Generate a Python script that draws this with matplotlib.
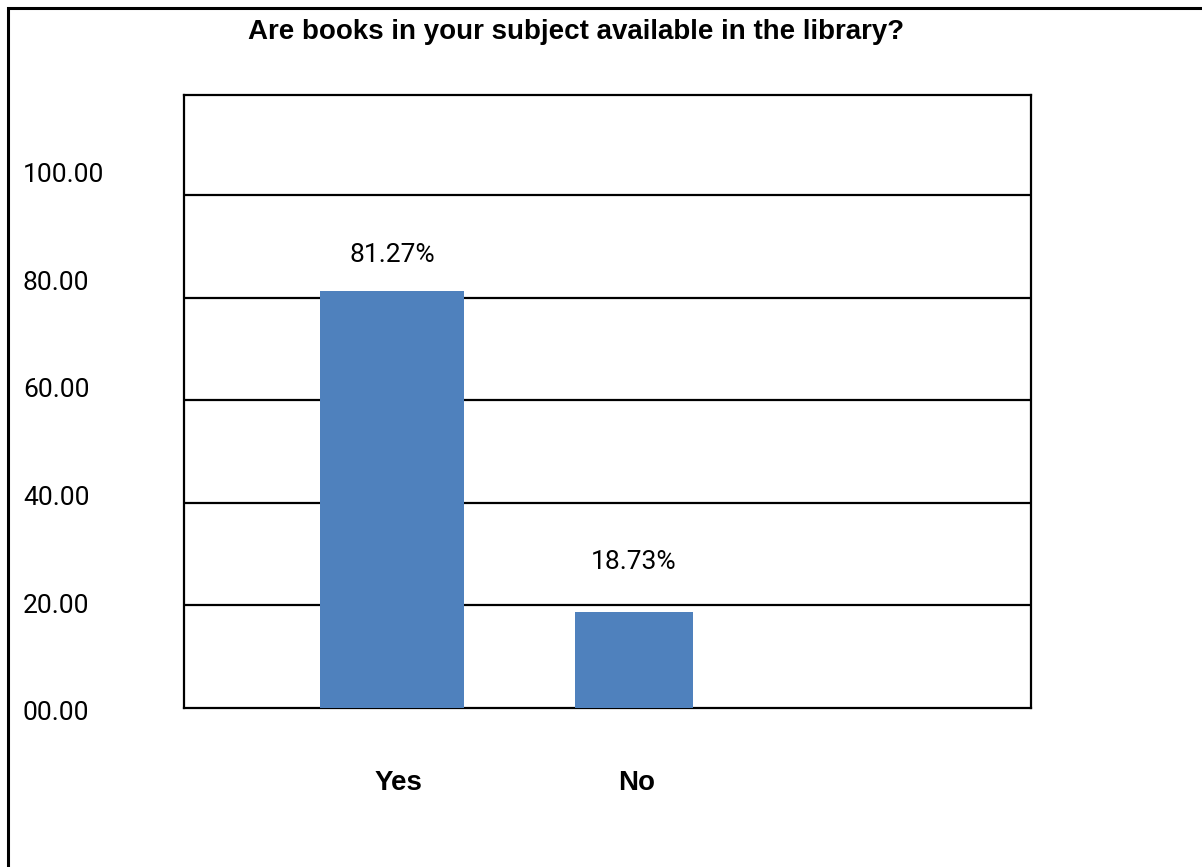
import matplotlib
matplotlib.use('Agg')
import matplotlib.pyplot as plt
import matplotlib.patches as patches
import matplotlib.transforms as mtransforms

# data
categories = ['Yes', 'No']
values = [81.27, 18.73]
value_labels = ['81.27%', '18.73%']
ytick_values = [0, 20, 40, 60, 80, 100]
ytick_labels = ['00.00', '20.00', '40.00', '60.00', '80.00', '100.00']

W, H = 1202, 867
fig = plt.figure(figsize=(W / 100, H / 100), dpi=100)
fig.patch.set_facecolor('white')

narrow = ['Liberation Sans Narrow', 'Liberation Sans', 'DejaVu Sans']
regular = ['Roboto', 'DejaVu Sans']

def px_box(x0, y_top, x1, y_bot):
    return [x0 / W, 1 - y_bot / H, (x1 - x0) / W, (y_bot - y_top) / H]

# main plot area
ax = fig.add_axes(px_box(184, 95, 1031, 708))
x = [0, 1]
ax.bar(x, values, width=[0.595, 0.488], color='#4F81BD', zorder=3)
ax.set_xlim(-0.86, 2.64)
ax.set_ylim(0, 119.5)
ax.set_yticks(ytick_values[1:])
ax.set_yticklabels([])
ax.tick_params(axis='y', length=0)
ax.grid(axis='y', color='black', linewidth=1.6, zorder=1)
for s in ax.spines.values():
    s.set_linewidth(1.6)
    s.set_color('black')

ax.set_xticks(x)
ax.set_xticklabels(categories, fontsize=20, fontweight='bold', family=narrow)
ax.tick_params(axis='x', length=0, pad=45)
shifts = [6, 3]
for lbl, dx in zip(ax.get_xticklabels(), shifts):
    lbl.set_transform(lbl.get_transform() +
                      mtransforms.ScaledTranslation(dx / 100, 0, fig.dpi_scale_trans))

# value labels
offsets = [21, 31]
for xi, v, t, off in zip(x, values, value_labels, offsets):
    ax.annotate(t, (xi, v), xytext=(0, off), textcoords='offset points',
                ha='center', va='baseline', fontsize=19, family=regular)

# y labels sit on their own scale, left aligned
ax2 = fig.add_axes(px_box(184, 172.5, 190, 711))
ax2.set_ylim(0, 100)
ax2.set_yticks(ytick_values)
ax2.set_yticklabels(ytick_labels, fontsize=19, family=regular)
ax2.tick_params(axis='y', length=0, pad=116)
plt.setp(ax2.get_yticklabels(), ha='left')
ax2.set_xticks([])
for s in ax2.spines.values():
    s.set_visible(False)
ax2.patch.set_alpha(0)

fig.text(576 / W, 1 - 39 / H, 'Are books in your subject available in the library?',
         ha='center', va='baseline', fontsize=20, fontweight='bold', family=narrow)

# outer frame, cut off at right and bottom like the original
fig.patches.append(patches.Rectangle((8 / W, -0.1), 1.2, 1.1 - 8 / H,
                                     transform=fig.transFigure, fill=False,
                                     edgecolor='black', linewidth=2.2))

fig.savefig('out.png', dpi=100)
